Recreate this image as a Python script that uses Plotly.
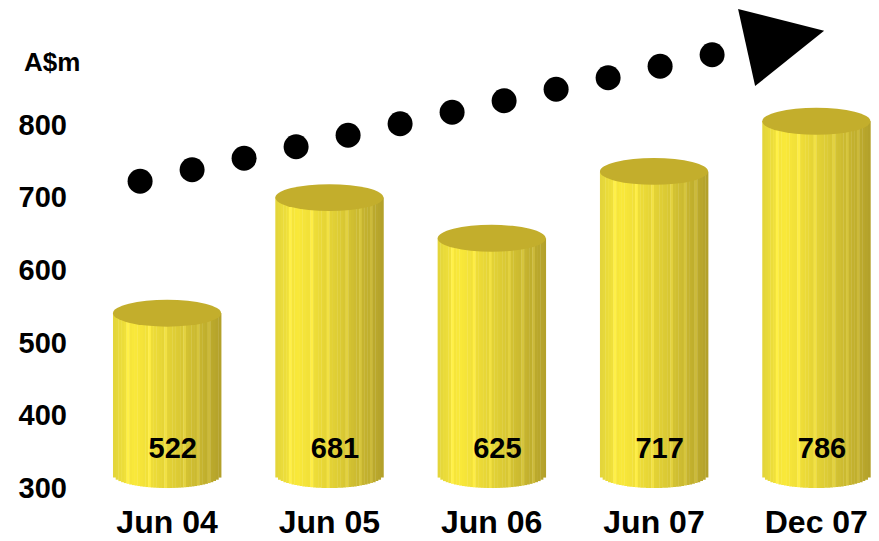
import numpy as np
import plotly.graph_objects as go

# Half-yearly values, A$ millions
periods = ["Jun 04", "Jun 05", "Jun 06", "Jun 07", "Dec 07"]
values = [522, 681, 625, 717, 786]
y_ticks = [300, 400, 500, 600, 700, 800]

BASE = 300          # axis floor, where cylinders stand
RADIUS = 0.333      # cylinder half-width in x units
CAP = 18.5          # half-height of the elliptical cap, in y units
N_STRIPS = 40
LABEL_Y = 351       # height of the in-bar value labels

TOP_COLOR = "#C3AE2C"
STOPS = [(0.0, (226, 212, 58)), (0.2, (250, 233, 58)), (0.6, (220, 203, 52)), (1.0, (178, 160, 42))]
HIGHLIGHT_STRIPS = {5, 13, 19, 26, 31, 35}


def body_color(t, lift=0):
    for (t0, c0), (t1, c1) in zip(STOPS[:-1], STOPS[1:]):
        if t <= t1:
            f = (t - t0) / (t1 - t0)
            r, g, b = (min(255, round(a + (bb - a) * f) + lift) for a, bb in zip(c0, c1))
            return f"rgb({r},{g},{b})"
    return "rgb(178,160,42)"


shapes = []
for i, v in enumerate(values):
    edges = np.linspace(i - RADIUS, i + RADIUS, N_STRIPS + 1)
    for k in range(N_STRIPS):
        x0, x1 = edges[k], edges[k + 1]
        mid = (x0 + x1) / 2
        dx = (mid - i) / RADIUS
        # bottom follows the lower half of the base ellipse
        y_bot = BASE + CAP - CAP * np.sqrt(max(0.0, 1 - dx * dx))
        lift = 14 if k in HIGHLIGHT_STRIPS else 0
        shapes.append(dict(type="rect", xref="x", yref="y",
                           x0=x0, x1=x1 + 0.002, y0=y_bot, y1=v + CAP,
                           fillcolor=body_color((k + 0.5) / N_STRIPS, lift),
                           line=dict(width=0), layer="below"))
    # elliptical cap; its front edge sits at the bar value
    shapes.append(dict(type="circle", xref="x", yref="y",
                       x0=i - RADIUS, x1=i + RADIUS, y0=v, y1=v + 2 * CAP,
                       fillcolor=TOP_COLOR, line=dict(width=0), layer="below"))

# Dotted upward trend arrow (decoration)
arrow_start = (-0.166, 722)
arrow_end = (3.358, 896)
n_dots = 12
dot_x = np.linspace(arrow_start[0], arrow_end[0], n_dots)
dot_y = np.linspace(arrow_start[1], arrow_end[1], n_dots)
head = [(3.518, 959), (4.048, 929), (3.623, 853)]
shapes.append(dict(type="path", xref="x", yref="y",
                   path="M {} {} L {} {} L {} {} Z".format(*[c for p in head for c in p]),
                   fillcolor="black", line=dict(width=0)))

fig = go.Figure()
fig.add_trace(go.Scatter(x=dot_x, y=dot_y, mode="markers",
                         marker=dict(size=25, color="black"),
                         hoverinfo="skip", cliponaxis=False))
fig.add_trace(go.Scatter(x=[i + 0.035 for i in range(len(values))], y=[LABEL_Y] * len(values),
                         mode="text", text=[str(v) for v in values],
                         textfont=dict(family="Liberation Sans Narrow, Arial Narrow, Liberation Sans",
                                       size=29, color="black", weight="bold"),
                         hoverinfo="skip", cliponaxis=False))

fig.update_layout(
    width=879, height=541,
    margin=dict(l=94, r=1, t=5, b=41),
    plot_bgcolor="white", paper_bgcolor="white",
    showlegend=False,
    shapes=shapes,
    xaxis=dict(range=[-0.45, 4.38], tickvals=list(range(len(periods))), ticktext=periods,
               showgrid=False, zeroline=False, showline=False, ticks="",
               tickfont=dict(family="Liberation Sans, Arial", size=32, color="black", weight="bold"),
               ticklabelstandoff=2),
    yaxis=dict(range=[286.3, 964.4], tickvals=y_ticks,
               showgrid=False, zeroline=False, showline=False, ticks="",
               tickfont=dict(family="Liberation Sans, Arial", size=29, color="black", weight="bold"),
               ticklabelstandoff=26),
    annotations=[dict(text="A$m", xref="paper", yref="paper", x=-0.092, y=0.885,
                      xanchor="left", yanchor="middle", showarrow=False,
                      font=dict(family="Liberation Sans, Arial", size=26, color="black", weight="bold"))],
)

fig.write_html("out.html")
